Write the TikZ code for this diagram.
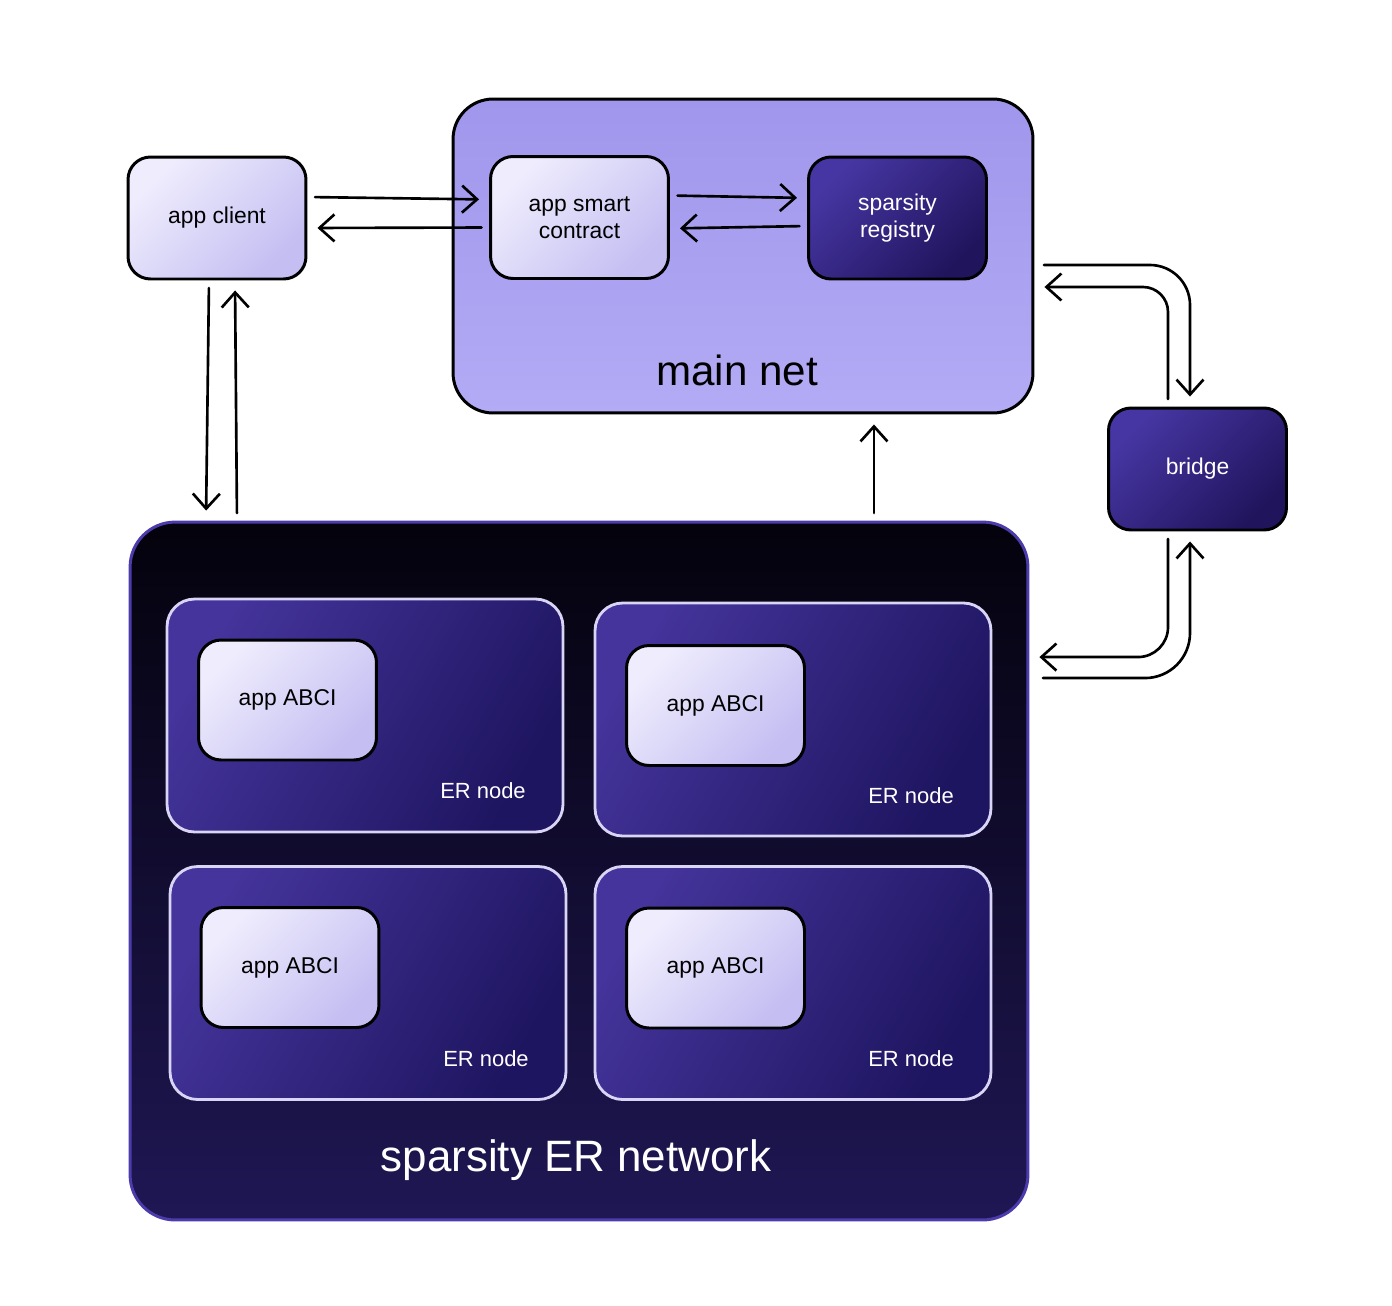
\documentclass[tikz,border=0pt]{standalone}
\usepackage{fontspec}
\setmainfont{Liberation Sans}
\usetikzlibrary{arrows.meta}
\definecolor{lavlight}{HTML}{EFEDFD}
\definecolor{lavdark}{HTML}{C4BEF2}
\definecolor{mainlight}{HTML}{A096EC}
\definecolor{maindark}{HTML}{B3ABF5}
\definecolor{indlight}{HTML}{4636A3}
\definecolor{inddark}{HTML}{20145C}
\definecolor{netlight}{HTML}{04020C}
\definecolor{netdark}{HTML}{1F1754}
\definecolor{netborder}{HTML}{4B3BAB}
\definecolor{nodelight}{HTML}{44349B}
\definecolor{nodedark}{HTML}{1E1560}
\definecolor{nodeborder}{HTML}{D9D5F6}

\begin{document}
\begin{tikzpicture}[line cap=round,line join=round,x=0.02cm,y=-0.02cm,
    box/.style={draw=black, line width=1.7pt, rounded corners=0.45cm, minimum width=3.56cm,
        minimum height=2.44cm, inner sep=0pt, align=center, font=\fontsize{13}{15.5}\selectfont},
    lightbox/.style={box, top color=lavlight, bottom color=lavdark, shading angle=45},
    darkbox/.style={box, top color=indlight, bottom color=inddark, shading angle=45, text=white},
    ernodebox/.style={draw=nodeborder, line width=1.6pt, rounded corners=0.55cm, minimum width=7.92cm,
        minimum height=4.66cm, top color=nodelight, bottom color=nodedark, shading angle=60},
    ertext/.style={text=white, font=\fontsize{12.5}{15}\selectfont},
    arr/.style={-{Straight Barb[length=3mm,width=5.4mm,line width=1.5pt]}, line width=1.5pt,
        shorten <=1.5mm, shorten >=2mm}]
    \useasboundingbox (0,0) rectangle (1392,1305);

    % main net
    \node[draw=black, line width=1.7pt, rounded corners=0.8cm, minimum width=11.6cm, minimum height=6.28cm,
        top color=mainlight, bottom color=maindark] (mainnet) at (743,256) {};
    \node[font=\fontsize{24}{27}\selectfont] (mainlabel) at (737,370) {main net};
    \node[lightbox] (client) at (217,218) {app client};
    \node[lightbox] (contract) at (579.5,217.5) {app smart\\contract};
    \node[darkbox] (registry) at (897.5,218) {sparsity\\registry};
    \node[darkbox] (bridge) at (1197.5,469) {bridge};

    % ER network
    \node[draw=netborder, line width=1.7pt, rounded corners=0.9cm, minimum width=17.96cm, minimum height=13.96cm,
        top color=netlight, bottom color=netdark] (ernet) at (579,871) {};
    \node[text=white, font=\fontsize{25}{28}\selectfont] (netlabel) at (576,1160) {sparsity ER network};
    \node[ernodebox] (ernode1) at (365,715.5) {};
    \node[ernodebox] (ernode2) at (793,719.5) {};
    \node[ernodebox] (ernode3) at (368,983) {};
    \node[ernodebox] (ernode4) at (793,983) {};
    \node[ertext] (erlabel1) at (483,791) {ER node};
    \node[ertext] (erlabel2) at (911,796) {ER node};
    \node[ertext] (erlabel3) at (486,1059) {ER node};
    \node[ertext] (erlabel4) at (911,1059) {ER node};
    \node[lightbox, minimum height=2.4cm] (abci1) at (287.5,700) {app ABCI};
    \node[lightbox, minimum height=2.4cm] (abci2) at (715.5,705.5) {app ABCI};
    \node[lightbox, minimum height=2.4cm] (abci3) at (290,967.5) {app ABCI};
    \node[lightbox, minimum height=2.4cm] (abci4) at (715.5,968) {app ABCI};

    % arrows
    \draw[arr] ([yshift=4.2mm]client.east) -- ([yshift=3.6mm]contract.west);
    \draw[arr] ([yshift=-2mm]contract.west) -- ([yshift=-2mm]client.east);
    \draw[arr] ([yshift=4.4mm]contract.east) -- ([yshift=4mm]registry.east -| registry.west);
    \draw[arr] ([yshift=-1.6mm]registry.west) -- ([yshift=-2.2mm]contract.east);
    \draw[arr] ([xshift=-1.6mm]client.south) -- ([xshift=-2.2mm]client.south |- ernet.north);
    \draw[arr] ([xshift=4mm]client.south |- ernet.north) -- ([xshift=3.6mm]client.south);
    \draw[arr] ([xshift=2.62cm]mainnet.south |- ernet.north) -- ([xshift=2.62cm]mainnet.south);
    \draw[arr, rounded corners=0.8cm] ([xshift=0.4mm,yshift=-1.8mm]mainnet.east) -| ([xshift=-1.5mm]bridge.north);
    \draw[arr, rounded corners=0.5cm] ([xshift=-5.9mm]bridge.north) |- ([yshift=-6.2mm]mainnet.east);
    \draw[arr, rounded corners=0.6cm] ([xshift=-5.9mm]bridge.south) |- ([yshift=4.28cm]ernet.east);
    \draw[arr, rounded corners=0.9cm] ([xshift=1.2mm,yshift=3.86cm]ernet.east) -| ([xshift=-1.5mm]bridge.south);
\end{tikzpicture}
\end{document}
